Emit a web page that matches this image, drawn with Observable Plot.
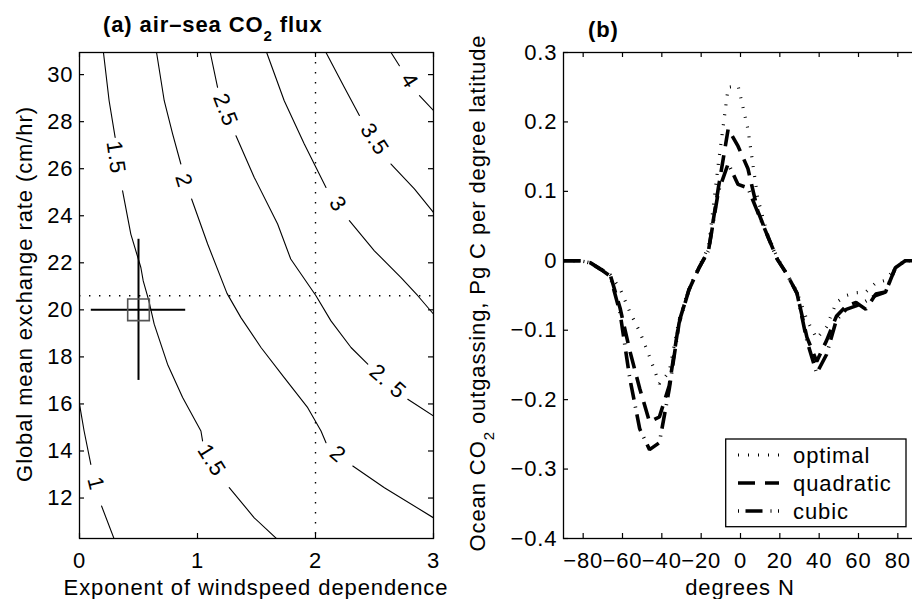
<!DOCTYPE html>
<html><head><meta charset="utf-8">
<script src="https://cdn.jsdelivr.net/npm/d3@7"></script>
<script src="https://cdn.jsdelivr.net/npm/@observablehq/plot@0.6"></script>
<style>
html,body{margin:0;padding:0;overflow:hidden;background:#fff;}
#fig{position:relative;width:912px;height:599px;overflow:hidden;background:#fff;}
#fig svg{position:absolute;top:0;}
</style></head><body><div id="fig"></div>
<script>
// ---------- Panel (a): contour lines (x = exponent, y = exchange rate), null = label gap ----------
const xTicksA = [0, 1, 2, 3];
const yTicksA = [12, 14, 16, 18, 20, 22, 24, 26, 28, 30];
const contour1 = [[0,15.99],[0.039,14.85],[0.096,13.43],null,[0.187,11.66],[0.293,10.27]];
const contour15 = [[0.203,30.94],[0.251,28.89],[0.302,27.33],null,[0.365,25.06],[0.435,23.22],[0.52,21.8],[0.54,21.23],[0.588,20.38],[0.633,19.39],[0.746,17.69],[0.874,16.27],[1.029,14.85],[1.043,14.43],null,[1.269,12.44],[1.481,11.16],[1.671,10.27]];
const contour2 = [[0.653,30.94],[0.718,28.89],[0.789,27.48],[0.859,26.2],null,[0.95,24.71],[1.086,22.8],[1.25,20.7],[1.368,19.67],[1.538,18.4],[1.735,17.12],[1.934,15.84],[2.047,14.85],[2.089,14.35],null,[2.316,13.36],[2.584,12.44],[3.0,11.16]];
const contour25 = [[1.108,30.94],[1.17,29.46],null,[1.326,27.4],[1.481,25.63],[1.679,23.65],[1.79,22.16],[2.004,20.6],[2.131,19.53],[2.301,18.4],[2.443,17.69],null,[2.782,16.2],[3.0,15.49]];
const contour3 = [[1.586,30.94],[1.735,28.89],[1.905,27.05],[2.089,25.2],null,[2.287,23.79],[2.499,22.51],[2.725,21.37],[2.867,20.6],[3.0,19.82]];
const contour35 = [[2.089,30.94],[2.244,29.46],[2.372,28.26],null,[2.64,26.2],[2.838,25.14],[3.0,24.14]];
const contour4 = [[2.64,30.94],[2.711,30.38],null,[2.881,29.11],[3.0,28.47]];
const contourLabels = [
  {label:"1", x:0.138, y:12.61, angle:76},
  {label:"1.5", x:0.308, y:26.48, angle:82},
  {label:"1.5", x:1.12, y:13.6, angle:58},
  {label:"2", x:0.882, y:25.49, angle:73},
  {label:"2", x:2.19, y:13.86, angle:41},
  {label:"2.5", x:1.235, y:28.5, angle:69},
  {label:"2. 5", x:2.612, y:16.95, angle:41},
  {label:"3", x:2.188, y:24.5, angle:55},
  {label:"3.5", x:2.5, y:27.25, angle:57},
  {label:"4", x:2.796, y:29.74, angle:58}
];
const optimumX = 2, optimumY = 20.6;            // dotted reference lines
const estX = 0.5, estXRange = [0.1, 0.9];        // estimate with error bars
const estY = 20, estYRange = [17, 23];

// ---------- Panel (b): outgassing by latitude ----------
const lat = [-90,-86.25,-81.25,-76.25,-71.25,-66.25,-61.25,-56.25,-51.25,-46.25,-41.25,-36.25,-31.25,-26.25,-21.25,-16.25,-11.25,-6.25,-1.25,3.75,8.75,13.75,18.75,23.75,28.75,33.75,38.75,43.75,48.75,53.75,58.75,63.75,68.75,73.75,78.75,83.75,90];
const optimal = [0,0,0,-0.003,-0.011,-0.02,-0.04,-0.074,-0.102,-0.138,-0.177,-0.16,-0.085,-0.04,-0.01,0.02,0.14,0.25,0.252,0.19,0.09,0.038,0.004,-0.02,-0.045,-0.085,-0.112,-0.095,-0.06,-0.05,-0.046,-0.045,-0.032,-0.028,-0.01,0,0];
const quadratic = [0,0,0,-0.003,-0.012,-0.02,-0.068,-0.13,-0.184,-0.232,-0.225,-0.18,-0.088,-0.042,-0.011,0.015,0.105,0.19,0.165,0.133,0.072,0.036,0.002,-0.02,-0.047,-0.11,-0.145,-0.115,-0.08,-0.065,-0.06,-0.07,-0.048,-0.045,-0.01,0,0];
const cubic = [0,0,0,-0.003,-0.012,-0.022,-0.075,-0.17,-0.242,-0.272,-0.262,-0.185,-0.09,-0.042,-0.011,0.015,0.1,0.14,0.11,0.105,0.07,0.036,0.002,-0.02,-0.047,-0.115,-0.162,-0.135,-0.085,-0.07,-0.065,-0.058,-0.05,-0.045,-0.01,0,0];
const xTicksB = [-80,-60,-40,-20,0,20,40,60,80];
const yTicksB = [-0.4,-0.3,-0.2,-0.1,0,0.1,0.2,0.3];
const seriesNames = ["optimal","quadratic","cubic"];

// ---------- styling ----------
const FONT = '"Liberation Sans", Arial, Helvetica, sans-serif';
const svgStyle = `font-family:${FONT};font-size:22px;letter-spacing:0.9px;color:#000;background:transparent;overflow:visible;`;
const fmt = d => String(d).replace("-", "\u2212");
const H = 599, MT = 52, MB = 61;
const innerH = H - MT - MB;

function contourRows(pts, id) {
  return pts.map(p => p ? {x: p[0], y: p[1], id} : {x: NaN, y: NaN, id});
}
const contourData = [
  ...contourRows(contour1, "1"), ...contourRows(contour15, "1.5"), ...contourRows(contour2, "2"),
  ...contourRows(contour25, "2.5"), ...contourRows(contour3, "3"), ...contourRows(contour35, "3.5"),
  ...contourRows(contour4, "4")
];

function frameTicks(xt, yt, innerW) {
  const s = {stroke: "#000", strokeWidth: 1.2};
  return [
    Plot.tickX(xt, {x: d => d, insetTop: innerH - 5, ...s}),
    Plot.tickX(xt, {x: d => d, insetBottom: innerH - 5, ...s}),
    Plot.tickY(yt, {y: d => d, insetRight: innerW - 5, ...s}),
    Plot.tickY(yt, {y: d => d, insetLeft: innerW - 5, ...s})
  ];
}

// ---------- Plot A ----------
const WA = 460, MLA = 79, MRA = 27;
const plotA = Plot.plot({
  width: WA, height: H, marginLeft: MLA, marginRight: MRA, marginTop: MT, marginBottom: MB,
  style: svgStyle,
  x: {domain: [0, 3]},
  y: {domain: [10.28, 30.94]},
  marks: [
    Plot.ruleX([optimumX], {stroke: "#000", strokeWidth: 1.4, strokeDasharray: "1.4,8.6"}),
    Plot.ruleY([optimumY], {stroke: "#000", strokeWidth: 1.4, strokeDasharray: "1.4,8.6"}),
    Plot.line(contourData, {x: "x", y: "y", z: "id", stroke: "#000", strokeWidth: 1.1, clip: true}),
    Plot.text(contourLabels, {x: "x", y: "y", text: "label", rotate: "angle", fill: "#000", fontSize: 22, textAnchor: "middle", lineAnchor: "middle"}),
    Plot.ruleY([estY], {x1: () => estXRange[0], x2: () => estXRange[1], stroke: "#000", strokeWidth: 2}),
    Plot.ruleX([estX], {y1: () => estYRange[0], y2: () => estYRange[1], stroke: "#000", strokeWidth: 2}),
    Plot.dot([[estX, estY]], {x: d => d[0], y: d => d[1], symbol: "square", r: 12.2, stroke: "#555", strokeWidth: 1.6, fill: "none"}),
    Plot.frame({stroke: "#000", strokeWidth: 1.3}),
    ...frameTicks(xTicksA, yTicksA, WA - MLA - MRA),
    Plot.axisX(xTicksA, {anchor: "bottom", tickSize: 0, tickPadding: 14, label: null, tickFormat: fmt, fill: "#000"}),
    Plot.axisY(yTicksA, {anchor: "left", tickSize: 0, tickPadding: 6, label: null, tickFormat: fmt, fill: "#000"})
  ]
});

// ---------- Plot B ----------
const WB = 478, MLB = 123, MRB = 1;
const rowsB = [];
seriesNames.forEach((name, k) => {
  const vals = [optimal, quadratic, cubic][k];
  lat.forEach((l, i) => rowsB.push({series: name, lat: l, v: vals[i]}));
});
const lineStyles = {
  optimal: {strokeWidth: 3.2, strokeDasharray: "1,9"},
  quadratic: {strokeWidth: 3.6, strokeDasharray: "17,9"},
  cubic: {strokeWidth: 3.6, strokeDasharray: "17,7,1,7"}
};
const plotB = Plot.plot({
  width: WB, height: H, marginLeft: MLB, marginRight: MRB, marginTop: MT, marginBottom: MB,
  style: svgStyle,
  x: {domain: [-90, 90]},
  y: {domain: [-0.4, 0.3]},
  marks: [
    ...seriesNames.map(name => Plot.line(rowsB.filter(d => d.series === name), {
      x: "lat", y: "v", stroke: "#000", strokeLinecap: "butt", strokeLinejoin: "miter", ...lineStyles[name]
    })),
    Plot.frame({stroke: "#000", strokeWidth: 1.3}),
    ...frameTicks(xTicksB, yTicksB, WB - MLB - MRB),
    Plot.axisX(xTicksB, {anchor: "bottom", tickSize: 0, tickPadding: 14, label: null, tickFormat: fmt, fill: "#000"}),
    Plot.axisY(yTicksB, {anchor: "left", tickSize: 0, tickPadding: 6, label: null, tickFormat: fmt, fill: "#000"})
  ]
});

const fig = document.getElementById("fig");
plotA.style.left = "0px";
plotB.style.left = "440px";
fig.appendChild(plotA);
fig.appendChild(plotB);

// ---------- titles, axis labels, legend ----------
const ov = d3.create("svg").attr("width", 912).attr("height", 599)
  .style("left", "0px").style("pointer-events", "none")
  .attr("font-family", FONT).attr("font-size", 22).style("letter-spacing", "0.9px");

const tA = ov.append("text").attr("x", 103).attr("y", 32).attr("font-weight", "bold");
tA.append("tspan").text("(a) air\u2013sea CO");
tA.append("tspan").attr("font-size", 15).attr("dy", 9).text("2");
tA.append("tspan").attr("dy", -9).text(" flux");

ov.append("text").attr("x", 588).attr("y", 37).attr("font-weight", "bold").text("(b)");

ov.append("text").attr("x", 256).attr("y", 594.5).attr("text-anchor", "middle").text("Exponent of windspeed dependence");
ov.append("text").attr("x", 740).attr("y", 594.5).attr("text-anchor", "middle").text("degrees N");

ov.append("text").attr("transform", "translate(32,294) rotate(-90)").attr("text-anchor", "middle")
  .text("Global mean exchange rate (cm/hr)");

const tB = ov.append("text").attr("transform", "translate(485,293) rotate(-90)").attr("text-anchor", "middle");
tB.append("tspan").text("Ocean CO");
tB.append("tspan").attr("font-size", 15).attr("dy", 9).text("2");
tB.append("tspan").attr("dy", -9).text(" outgassing, Pg C per degree latitude");

// legend
const lg = ov.append("g");
lg.append("rect").attr("x", 725.7).attr("y", 439).attr("width", 180.3).attr("height", 87.7)
  .attr("fill", "#fff").attr("stroke", "#000").attr("stroke-width", 1.3);
const legendY = [455, 483, 511];
const legendDash = {optimal: "1,9", quadratic: "17,10", cubic: "1,6.5,17,8"};
seriesNames.forEach((name, i) => {
  lg.append("path").attr("d", `M738,${legendY[i]}H779`).attr("fill", "none").attr("stroke", "#000")
    .attr("stroke-width", lineStyles[name].strokeWidth).attr("stroke-dasharray", legendDash[name]);
  lg.append("text").attr("x", 793).attr("y", legendY[i] + 7.5).text(name);
});

fig.appendChild(ov.node());
</script></body></html>
